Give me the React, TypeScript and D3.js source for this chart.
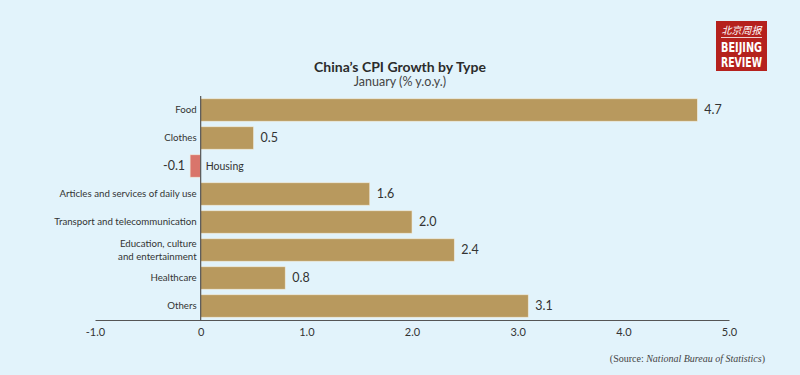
import * as React from 'react';
import * as d3 from 'd3';

const width = 800;
const height = 375;

const categories = [
  'Food',
  'Clothes',
  'Housing',
  'Articles and services of daily use',
  'Transport and telecommunication',
  'Education, culture\nand entertainment',
  'Healthcare',
  'Others',
];
const values = [4.7, 0.5, -0.1, 1.6, 2.0, 2.4, 0.8, 3.1];
const tickValues = [-1, 0, 1, 2, 3, 4, 5];
const tickLabels = ['-1.0', '0', '1.0', '2.0', '3.0', '4.0', '5.0'];

const font = 'Lato, "Open Sans", sans-serif';

const App: React.FC = () => {
  const x = d3.scaleLinear([-1, 5], [95, 729]);
  const y = d3
    .scaleBand(d3.range(categories.length).map(String), [96, 320])
    .paddingInner(0.2)
    .paddingOuter(0.1);

  const axisRef = React.useRef<SVGGElement>(null);

  React.useEffect(() => {
    const axis = d3
      .axisBottom(x)
      .tickValues(tickValues)
      .tickSize(0)
      .tickPadding(8)
      .tickFormat((_, i) => tickLabels[i]);
    d3.select(axisRef.current)
      .call(axis)
      .call((g) => g.select('.domain').attr('stroke', '#555').attr('stroke-width', 1.2))
      .call((g) =>
        g
          .selectAll('.tick text')
          .attr('fill', '#333')
          .style('font-family', font)
          .style('font-size', '11px')
      );
  }, []);

  return (
    <svg
      width={width}
      height={height}
      viewBox={`0 0 ${width} ${height}`}
      style={{ position: 'absolute', left: 0, top: 0, display: 'block' }}
    >
      <rect width={width} height={height} fill="#e2f3fb" />

      <text x={400} y={72} textAnchor="middle" fontFamily={font} fontWeight={700} fontSize={14} fill="#2b2b2b">
        China’s CPI Growth by Type
      </text>
      <text x={400} y={86} textAnchor="middle" fontFamily={font} fontSize={12.5} fill="#444">
        January (% y.o.y.)
      </text>

      <g>
        {values.map((v, i) => (
          <rect
            key={i}
            x={x(Math.min(0, v))}
            y={y(String(i))}
            width={Math.abs(x(v) - x(0))}
            height={y.bandwidth()}
            fill={v < 0 ? '#d9756b' : '#b8995e'}
            stroke="#f1e9d8"
            strokeWidth={0.6}
          />
        ))}
      </g>

      <g fontFamily={font} fontSize={9.7} fill="#333">
        {categories.map((c, i) => {
          const lines = c.split('\n');
          const cy = (y(String(i)) ?? 0) + y.bandwidth() / 2;
          const neg = values[i] < 0;
          const labelX = neg ? x(0) + 5 : x(0) - 4;
          return (
            <text
              key={c}
              x={labelX}
              y={cy - ((lines.length - 1) * 13) / 2}
              textAnchor={neg ? 'start' : 'end'}
              fontSize={neg ? 10.5 : undefined}
            >
              {lines.map((l, j) => (
                <tspan key={j} x={labelX} dy={j === 0 ? '0.35em' : 13}>
                  {l}
                </tspan>
              ))}
            </text>
          );
        })}
      </g>

      <g fontFamily={font} fontSize={12.5} fill="#333">
        {values.map((v, i) => (
          <text
            key={i}
            x={v < 0 ? x(v) - 5 : x(v) + 7}
            y={(y(String(i)) ?? 0) + y.bandwidth() / 2}
            dy="0.35em"
            textAnchor={v < 0 ? 'end' : 'start'}
          >
            {v.toFixed(1)}
          </text>
        ))}
      </g>

      <line x1={x(0)} x2={x(0)} y1={96} y2={320} stroke="#555" strokeWidth={1.2} />
      <g ref={axisRef} transform="translate(0, 320)" />

      <text x={765} y={362} textAnchor="end" fontFamily='"Liberation Serif", serif' fontSize={10} fill="#444">
        (Source: <tspan fontStyle="italic">National Bureau of Statistics</tspan>)
      </text>

      <g transform="translate(716, 21)">
        <rect width={51} height={50} fill="#b5211d" />
        <text x={25.5} y={13} textAnchor="middle" fontFamily='"Noto Sans CJK SC", sans-serif' fontSize={10} fontStyle="italic" fill="#fff">
          北京周报
        </text>
        <line x1={5} x2={46} y1={16.5} y2={16.5} stroke="#fff" strokeWidth={0.8} />
        <text x={25.5} y={31} textAnchor="middle" fontFamily='"Liberation Sans Narrow", "DejaVu Sans Condensed", sans-serif' fontWeight={700} fontSize={14} fill="#fff" textLength={41} lengthAdjust="spacingAndGlyphs">
          BEIJING
        </text>
        <text x={25.5} y={46} textAnchor="middle" fontFamily='"Liberation Sans Narrow", "DejaVu Sans Condensed", sans-serif' fontWeight={700} fontSize={14} fill="#fff" textLength={41} lengthAdjust="spacingAndGlyphs">
          REVIEW
        </text>
      </g>
    </svg>
  );
};

export default App;
